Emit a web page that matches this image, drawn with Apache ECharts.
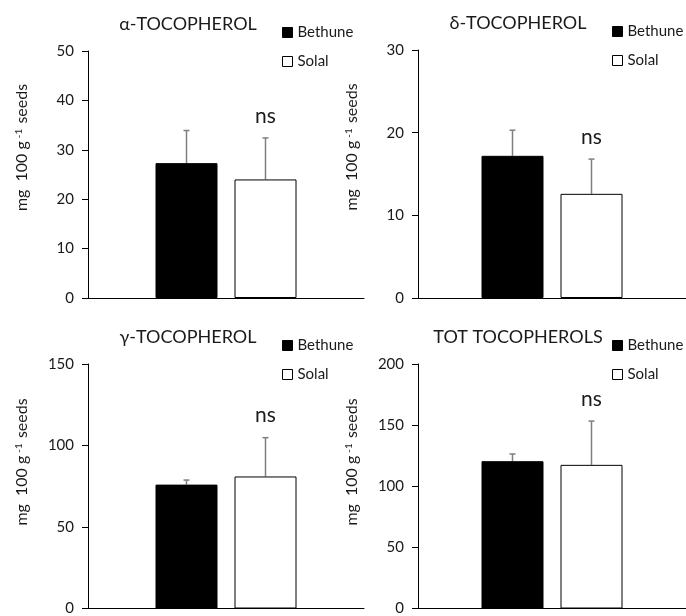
<!DOCTYPE html>
<html>
<head>
<meta charset="utf-8">
<script src="https://cdn.jsdelivr.net/npm/echarts@6/dist/echarts.min.js"></script>
<style>
  html, body { margin: 0; padding: 0; background: #fff; }
  #chart { width: 686px; height: 616px; }
</style>
</head>
<body>
<div id="chart"></div>
<script>
// panel titles and the one (hidden) category of each panel
const panelTitles = ["α-TOCOPHEROL", "δ-TOCOPHEROL", "γ-TOCOPHEROL", "TOT TOCOPHEROLS"];
const categories = ["Tocopherol"];
const seriesNames = ["Bethune", "Solal"];

// means and standard deviations (mg 100 g-1 seeds)
const bethuneMean = [27.3, 17.2, 76.0, 120.5];
const bethuneSd = [6.6, 3.1, 2.8, 5.9];
const solalMean = [24.0, 12.6, 81.0, 117.5];
const solalSd = [8.4, 4.2, 23.8, 35.8];

// y axis ranges and ticks
const yMax = [50, 30, 150, 200];
const yStep = [10, 10, 50, 50];

// significance label over each pair
const sigLabels = ["ns", "ns", "ns", "ns"];

const FONT = "Lato, 'Open Sans', sans-serif";
const TXT = "#1a1a1a";
const BAR_W = 62;
const BAR_GAP = 17;

// grid placement of the four panels
const gridPos = [
  { left: 88, top: 51, width: 276, height: 247 },
  { left: 418, top: 50, width: 276, height: 248 },
  { left: 88, top: 364, width: 276, height: 250 },
  { left: 418, top: 364, width: 276, height: 250 }
];

const chart = echarts.init(document.getElementById("chart"));

let grids = [], xAxes = [], yAxes = [], series = [], titles = [], legends = [], graphics = [];

// error bar whisker (upwards only) + optional text above
function errorRender(offset, label) {
  return function (params, api) {
    const mean = api.value(1);
    const sd = api.value(2);
    const base = api.coord([api.value(0), mean]);
    const top = api.coord([api.value(0), mean + sd]);
    const x = base[0] + offset;
    const style = { stroke: "#7f7f7f", lineWidth: 1.5 };
    const children = [
      { type: "line", shape: { x1: x, y1: base[1], x2: x, y2: top[1] }, style: style },
      { type: "line", shape: { x1: x - 3, y1: top[1], x2: x + 3, y2: top[1] }, style: style }
    ];
    if (label) {
      children.push({
        type: "text",
        x: x,
        y: top[1] - 22,
        style: { text: label, font: "21px " + FONT, fill: TXT, align: "center", verticalAlign: "middle" }
      });
    }
    return { type: "group", children: children };
  };
}

for (let i = 0; i < 4; i++) {
  const g = gridPos[i];
  grids.push(Object.assign({ containLabel: false }, g));

  xAxes.push({
    type: "category",
    gridIndex: i,
    data: categories,
    axisLine: { lineStyle: { color: "#000", width: 1 } },
    axisTick: { show: false },
    axisLabel: { show: false }
  });

  yAxes.push({
    type: "value",
    gridIndex: i,
    min: 0,
    max: yMax[i],
    interval: yStep[i],
    axisLine: { show: true, lineStyle: { color: "#000", width: 1 } },
    axisTick: { show: true, inside: false, length: 6, lineStyle: { color: "#000" } },
    axisLabel: { color: TXT, fontSize: 15, fontFamily: FONT, margin: 14 },
    splitLine: { show: false }
  });

  series.push({
    name: seriesNames[0],
    type: "bar",
    xAxisIndex: i,
    yAxisIndex: i,
    barWidth: BAR_W,
    barGap: (BAR_GAP / BAR_W * 100) + "%",
    itemStyle: { color: "#000", borderColor: "#000", borderWidth: 1 },
    data: [bethuneMean[i]],
    z: 2
  });
  series.push({
    name: seriesNames[1],
    type: "bar",
    xAxisIndex: i,
    yAxisIndex: i,
    barWidth: BAR_W,
    itemStyle: { color: "#fff", borderColor: "#000", borderWidth: 1 },
    data: [solalMean[i]],
    z: 2
  });

  const off = (BAR_W + BAR_GAP) / 2;
  series.push({
    type: "custom",
    xAxisIndex: i,
    yAxisIndex: i,
    renderItem: errorRender(-off, null),
    data: [[0, bethuneMean[i], bethuneSd[i]]],
    z: 1,
    silent: true
  });
  series.push({
    type: "custom",
    xAxisIndex: i,
    yAxisIndex: i,
    renderItem: errorRender(off, sigLabels[i]),
    data: [[0, solalMean[i], solalSd[i]]],
    z: 1,
    silent: true
  });

  const cx = g.left + 95;
  titles.push({
    text: panelTitles[i],
    left: cx,
    top: g.top - 41,
    textAlign: "center",
    textStyle: { color: TXT, fontSize: 18, fontWeight: "normal", fontFamily: FONT }
  });

  legends.push({
    data: [
      { name: seriesNames[0], itemStyle: { color: "#000", borderColor: "#000", borderWidth: 1 } },
      { name: seriesNames[1], itemStyle: { color: "#fff", borderColor: "#000", borderWidth: 1 } }
    ],
    orient: "vertical",
    left: g.left + 194,
    top: g.top - 26,
    padding: 0,
    icon: "rect",
    itemWidth: 10,
    itemHeight: 10,
    itemGap: 14,
    selectedMode: false,
    textStyle: { color: TXT, fontSize: 15, fontFamily: FONT }
  });

  graphics.push({
    type: "text",
    x: g.left - 66,
    y: g.top + g.height / 2 - 27,
    rotation: Math.PI / 2,
    style: {
      text: "mg  100 g{sup|-1} seeds",
      font: "16px " + FONT,
      fill: TXT,
      align: "center",
      verticalAlign: "middle",
      rich: {
        sup: { fontSize: 10, fontFamily: FONT, fill: TXT, verticalAlign: "top", padding: [0, 1, 7, 3] }
      }
    }
  });
}

chart.setOption({
  backgroundColor: "#fff",
  animation: false,
  title: titles,
  legend: legends,
  grid: grids,
  xAxis: xAxes,
  yAxis: yAxes,
  series: series,
  graphic: graphics
});
</script>
</body>
</html>
